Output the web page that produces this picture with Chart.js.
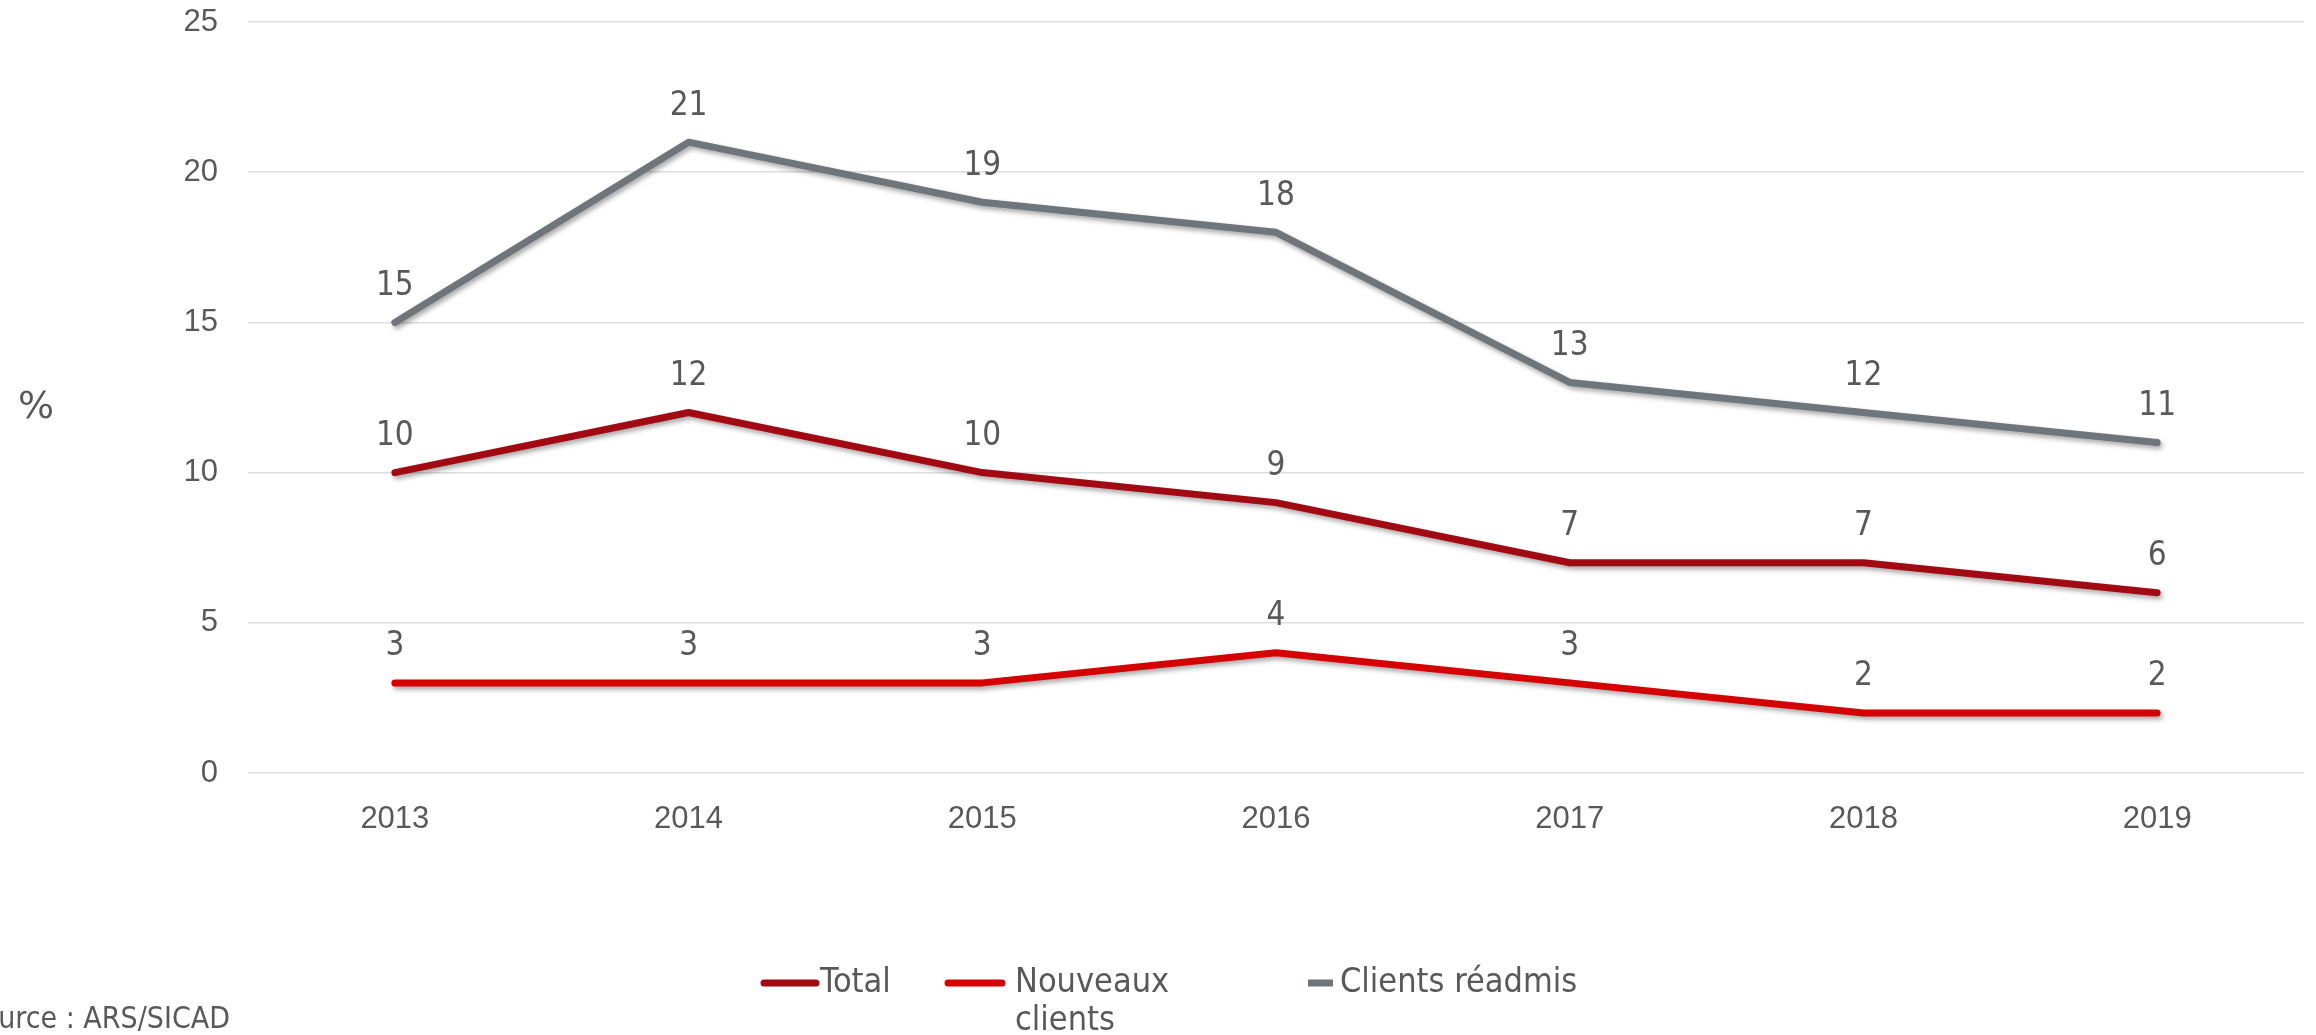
<!DOCTYPE html>
<html>
<head>
<meta charset="utf-8">
<script src="https://cdn.jsdelivr.net/npm/chart.js@4.4.1/dist/chart.umd.min.js"></script>
<style>
  html, body { margin: 0; padding: 0; background: #fff; overflow: hidden; }
  #wrap { position: relative; width: 2316px; height: 1035px; }
  canvas { display: block; }
</style>
</head>
<body>
<div id="wrap"><canvas id="c" width="2316" height="1035"></canvas></div>
<script>
const years = ['2013', '2014', '2015', '2016', '2017', '2018', '2019'];
const total = [10, 12, 10, 9, 7, 7, 6];
const nouveaux = [3, 3, 3, 4, 3, 2, 2];
const readmis = [15, 21, 19, 18, 13, 12, 11];
const yTicks = [0, 5, 10, 15, 20, 25];
const seriesNames = ['Total', 'Nouveaux clients', 'Clients réadmis'];
const sourceText = 'Source : ARS/SICAD';
const yTitle = '%';

const colTotal = '#A10A12';
const colNouv = '#D50000';
const colRead = '#6E757B';
const textCol = '#595959';
const tickFont = '"Liberation Sans", Arial, sans-serif';
const condFont = '"Liberation Sans Narrow", "DejaVu Sans Condensed", "Liberation Sans", sans-serif';

const shadowPlugin = {
  id: 'shadow',
  beforeDatasetDraw(chart) {
    const ctx = chart.ctx;
    ctx.save();
    ctx.shadowColor = 'rgba(0,0,0,0.35)';
    ctx.shadowBlur = 5;
    ctx.shadowOffsetX = 2;
    ctx.shadowOffsetY = 3;
  },
  afterDatasetDraw(chart) {
    chart.ctx.restore();
  }
};

const labelsPlugin = {
  id: 'valueLabels',
  afterDatasetsDraw(chart) {
    const ctx = chart.ctx;
    ctx.save();
    ctx.fillStyle = textCol;
    ctx.font = '33px ' + condFont;
    ctx.textAlign = 'center';
    ctx.textBaseline = 'middle';
    chart.data.datasets.forEach((ds, i) => {
      const meta = chart.getDatasetMeta(i);
      meta.data.forEach((pt, j) => {
        ctx.fillText(String(ds.data[j]), pt.x, pt.y - 36);
      });
    });
    ctx.restore();
  }
};

const extrasPlugin = {
  id: 'extras',
  afterDraw(chart) {
    const ctx = chart.ctx;
    ctx.save();
    // y title
    ctx.fillStyle = textCol;
    ctx.font = '38px "DejaVu Sans", sans-serif';
    ctx.textAlign = 'center';
    ctx.textBaseline = 'middle';
    ctx.fillText(yTitle, 36, 408);

    // legend
    ctx.font = '34px ' + condFont;
    ctx.textAlign = 'left';
    ctx.lineCap = 'round';
    const ly = 983;
    // Total
    ctx.strokeStyle = colTotal; ctx.lineWidth = 7;
    ctx.beginPath(); ctx.moveTo(764, ly); ctx.lineTo(816, ly); ctx.stroke();
    ctx.fillText(seriesNames[0], 820, ly);
    // Nouveaux clients
    ctx.strokeStyle = colNouv;
    ctx.beginPath(); ctx.moveTo(948, ly); ctx.lineTo(1002, ly); ctx.stroke();
    const parts = seriesNames[1].split(' ');
    ctx.fillText(parts[0], 1015, ly);
    ctx.fillText(parts[1], 1015, ly + 38);
    // Clients readmis
    ctx.lineCap = 'butt';
    ctx.strokeStyle = colRead;
    ctx.beginPath(); ctx.moveTo(1308, ly); ctx.lineTo(1333, ly); ctx.stroke();
    ctx.fillText(seriesNames[2], 1340, ly);

    // source
    ctx.font = '30px ' + condFont;
    ctx.textAlign = 'right';
    ctx.fillText(sourceText, 230, 1020);
    ctx.restore();
  }
};

const mk = (label, data, color) => ({
  label, data,
  borderColor: color, backgroundColor: color,
  borderWidth: 7, pointRadius: 0, pointHoverRadius: 0,
  borderCapStyle: 'round', borderJoinStyle: 'round',
  tension: 0, fill: false
});

new Chart(document.getElementById('c'), {
  type: 'line',
  data: {
    labels: years,
    datasets: [
      mk(seriesNames[0], total, colTotal),
      mk(seriesNames[1], nouveaux, colNouv),
      mk(seriesNames[2], readmis, colRead)
    ]
  },
  options: {
    responsive: false,
    animation: false,
    events: [],
    layout: { padding: { top: 22, right: 12, left: 0, bottom: 0 } },
    plugins: { legend: { display: false }, tooltip: { enabled: false } },
    scales: {
      x: {
        offset: true,
        grid: { display: false, drawTicks: false },
        border: { display: false },
        ticks: { color: textCol, font: { family: tickFont, size: 31 }, padding: 28 },
        afterFit(s) { s.height = 262; s.paddingLeft = 0; s.paddingRight = 0; }
      },
      y: {
        min: 0, max: 25,
        afterBuildTicks(s) { s.ticks = yTicks.map(v => ({ value: v })); },
        grid: { color: '#DDDDDD', lineWidth: 1.5, drawTicks: false },
        border: { display: false },
        ticks: { color: textCol, font: { family: tickFont, size: 31 }, padding: 30 },
        afterFit(s) { s.width = 248; s.paddingTop = 0; s.paddingBottom = 0; }
      }
    }
  },
  plugins: [shadowPlugin, labelsPlugin, extrasPlugin]
});
</script>
</body>
</html>
